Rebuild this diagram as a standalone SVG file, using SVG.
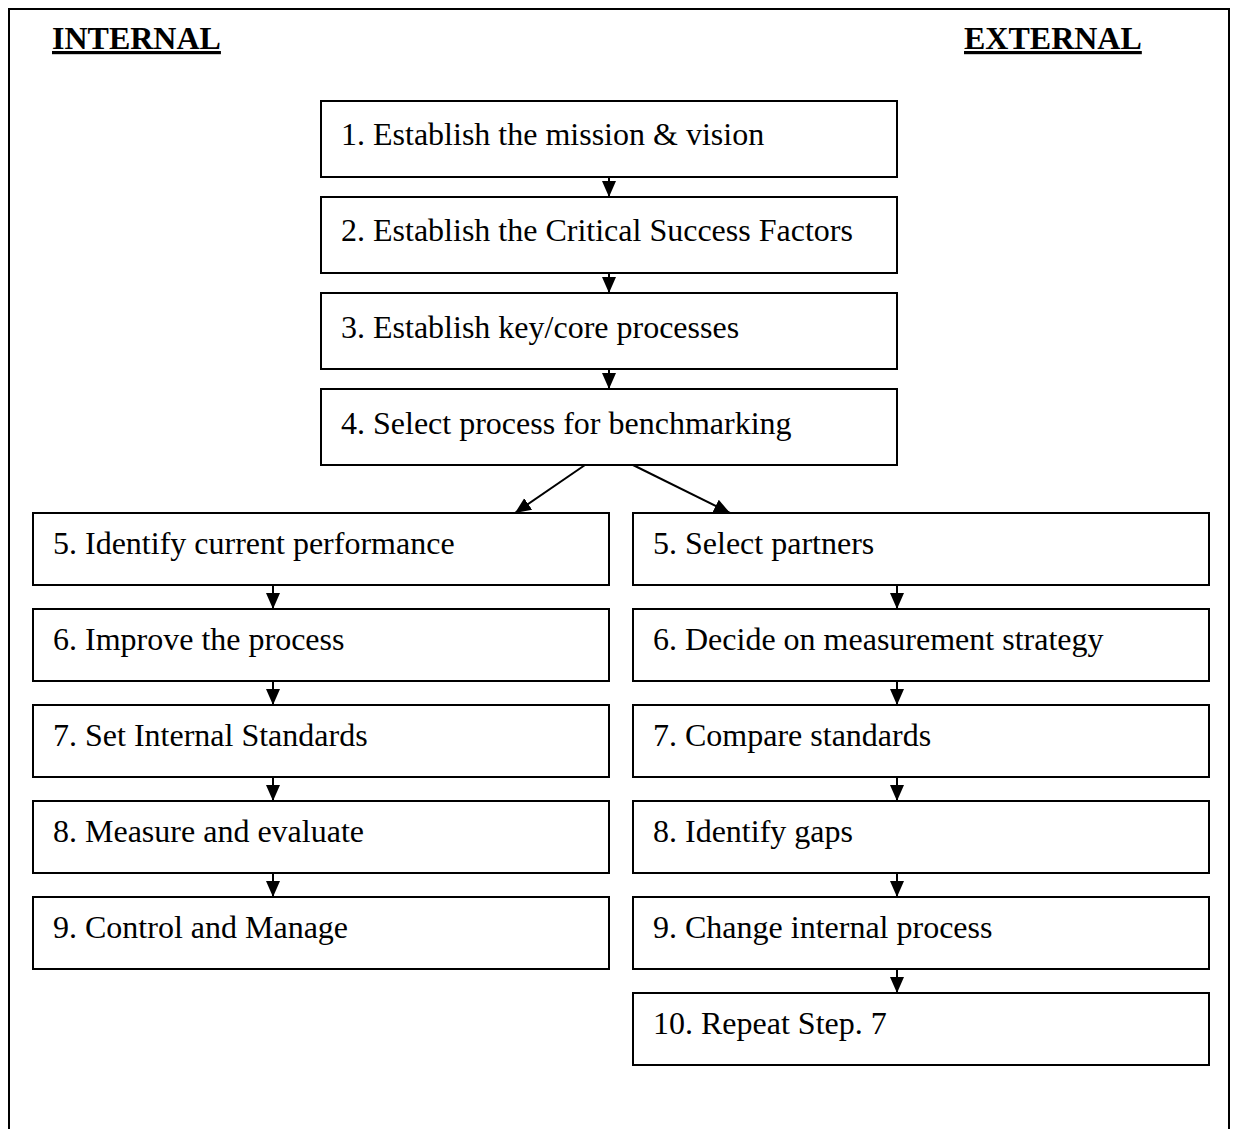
<svg xmlns="http://www.w3.org/2000/svg" width="1237" height="1129" viewBox="0 0 1237 1129">
  <defs>
    <marker id="ah" markerUnits="userSpaceOnUse" markerWidth="16" markerHeight="16" viewBox="0 0 16 16" refX="16" refY="8" orient="auto">
      <path d="M0,1 L16,8 L0,15 Z" fill="#000"/>
    </marker>
  </defs>
  <style>
    .box { fill: #fff; stroke: #000; stroke-width: 2; }
    .lbl { font-family: "Liberation Serif", "Times New Roman", serif; font-size: 32px; fill: #000; }
    .hdr { font-family: "Liberation Serif", "Times New Roman", serif; font-size: 32px; font-weight: bold; fill: #000; text-decoration: underline; }
    .edge { stroke: #000; stroke-width: 2; fill: none; marker-end: url(#ah); }
    .frame { fill: none; stroke: #000; stroke-width: 2; }
  </style>
  <rect width="1237" height="1129" fill="#fff"/>
  <!-- outer frame (open at the bottom) -->
  <path class="frame" d="M9,1129 L9,9 L1229,9 L1229,1129"/>
  <text class="hdr" x="52" y="49">INTERNAL</text>
  <text class="hdr" x="964" y="49">EXTERNAL</text>

  <g id="connectors">
    <line class="edge" x1="609" y1="177" x2="609" y2="197"/>
    <line class="edge" x1="609" y1="273" x2="609" y2="293"/>
    <line class="edge" x1="609" y1="369" x2="609" y2="389"/>
    <line class="edge" x1="585" y1="465" x2="515" y2="513"/>
    <line class="edge" x1="633" y1="465" x2="730" y2="513"/>
    <line class="edge" x1="273" y1="585" x2="273" y2="609"/>
    <line class="edge" x1="273" y1="681" x2="273" y2="705"/>
    <line class="edge" x1="273" y1="777" x2="273" y2="801"/>
    <line class="edge" x1="273" y1="873" x2="273" y2="897"/>
    <line class="edge" x1="897" y1="585" x2="897" y2="609"/>
    <line class="edge" x1="897" y1="681" x2="897" y2="705"/>
    <line class="edge" x1="897" y1="777" x2="897" y2="801"/>
    <line class="edge" x1="897" y1="873" x2="897" y2="897"/>
    <line class="edge" x1="897" y1="969" x2="897" y2="993"/>
  </g>

  <g id="s1"><rect class="box" x="321" y="101" width="576" height="76"/><text class="lbl" x="341" y="145">1. Establish the mission &amp; vision</text></g>
  <g id="s2"><rect class="box" x="321" y="197" width="576" height="76"/><text class="lbl" x="341" y="241">2. Establish the Critical Success Factors</text></g>
  <g id="s3"><rect class="box" x="321" y="293" width="576" height="76"/><text class="lbl" x="341" y="338">3. Establish key/core processes</text></g>
  <g id="s4"><rect class="box" x="321" y="389" width="576" height="76"/><text class="lbl" x="341" y="434">4. Select process for benchmarking</text></g>

  <g id="i5"><rect class="box" x="33" y="513" width="576" height="72"/><text class="lbl" x="53" y="554">5. Identify current performance</text></g>
  <g id="i6"><rect class="box" x="33" y="609" width="576" height="72"/><text class="lbl" x="53" y="650">6. Improve the process</text></g>
  <g id="i7"><rect class="box" x="33" y="705" width="576" height="72"/><text class="lbl" x="53" y="746">7. Set Internal Standards</text></g>
  <g id="i8"><rect class="box" x="33" y="801" width="576" height="72"/><text class="lbl" x="53" y="842">8. Measure and evaluate</text></g>
  <g id="i9"><rect class="box" x="33" y="897" width="576" height="72"/><text class="lbl" x="53" y="938">9. Control and Manage</text></g>

  <g id="e5"><rect class="box" x="633" y="513" width="576" height="72"/><text class="lbl" x="653" y="554">5. Select partners</text></g>
  <g id="e6"><rect class="box" x="633" y="609" width="576" height="72"/><text class="lbl" x="653" y="650">6. Decide on measurement strategy</text></g>
  <g id="e7"><rect class="box" x="633" y="705" width="576" height="72"/><text class="lbl" x="653" y="746">7. Compare standards</text></g>
  <g id="e8"><rect class="box" x="633" y="801" width="576" height="72"/><text class="lbl" x="653" y="842">8. Identify gaps</text></g>
  <g id="e9"><rect class="box" x="633" y="897" width="576" height="72"/><text class="lbl" x="653" y="938">9. Change internal process</text></g>
  <g id="e10"><rect class="box" x="633" y="993" width="576" height="72"/><text class="lbl" x="653" y="1034">10. Repeat Step. 7</text></g>
</svg>
